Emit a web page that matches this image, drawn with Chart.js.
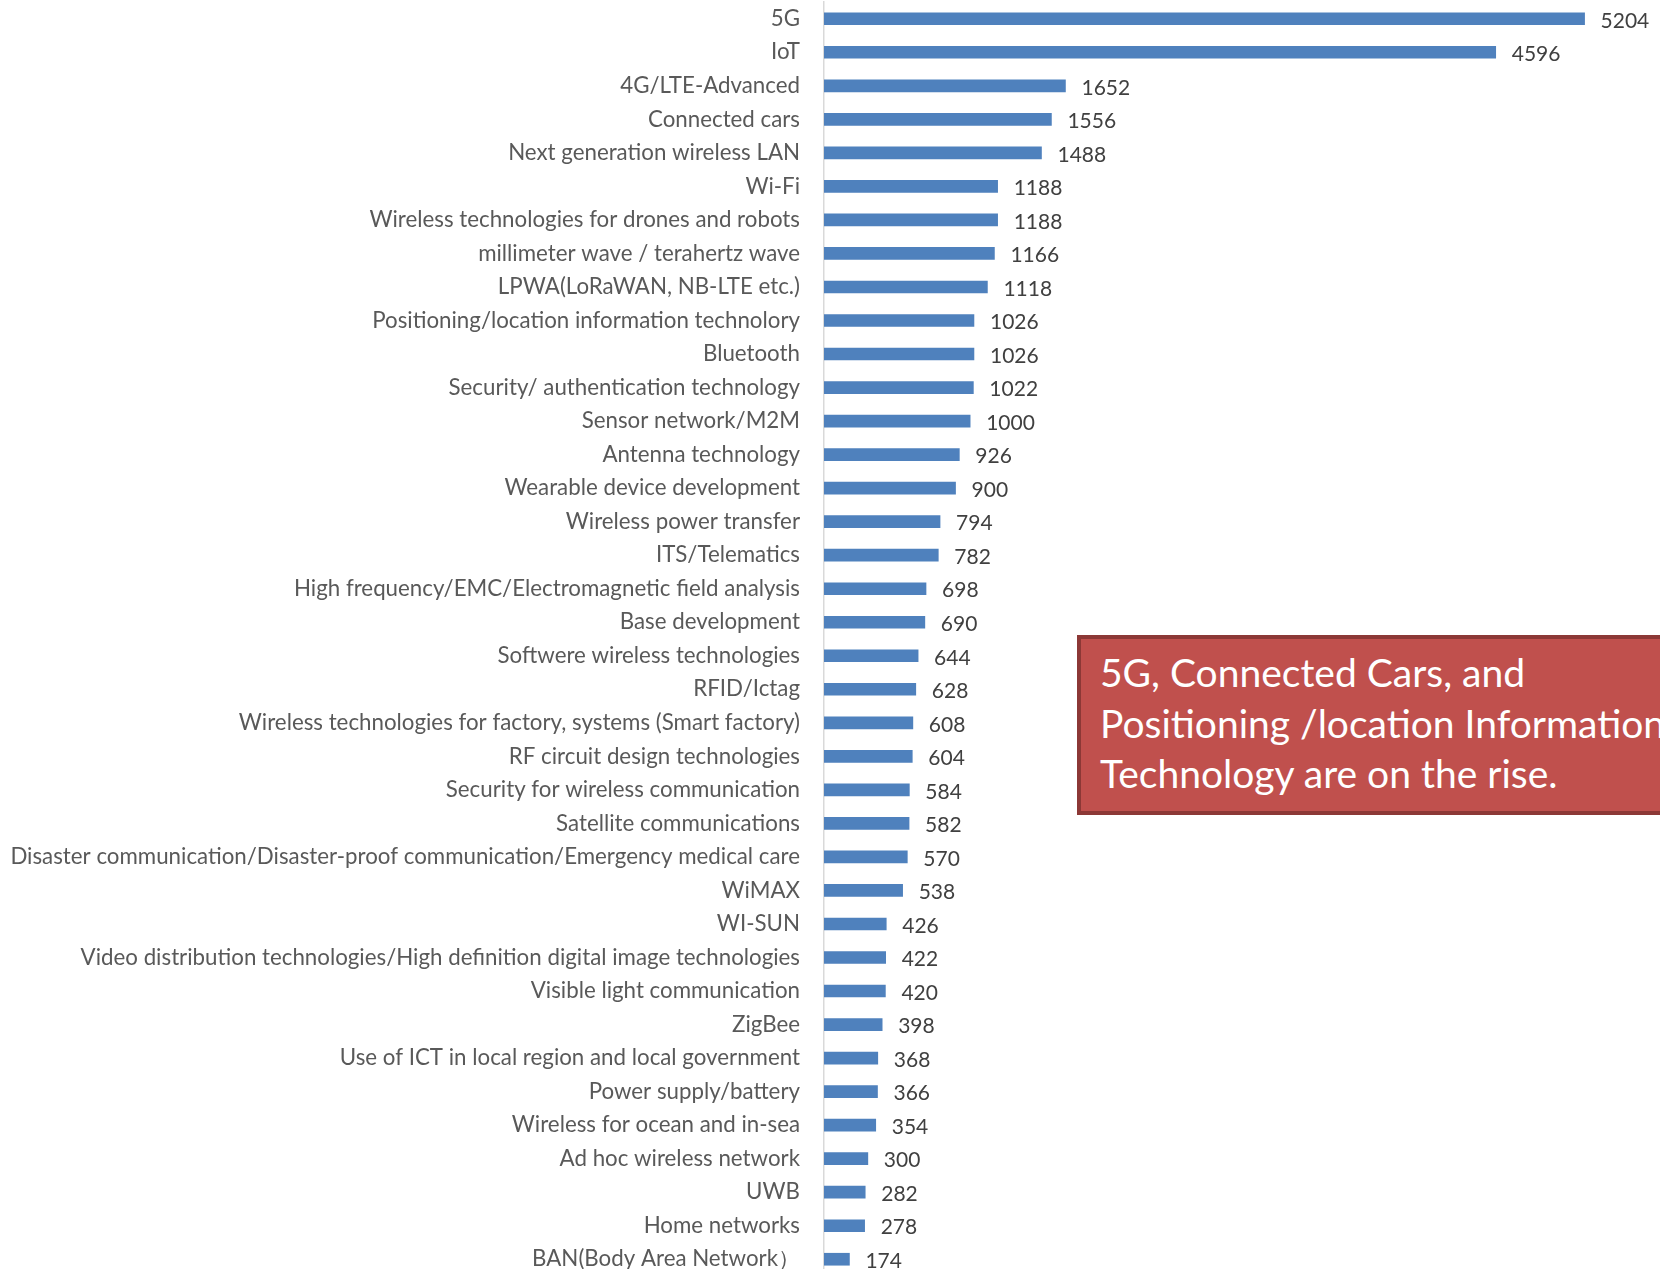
<!DOCTYPE html>
<html>
<head>
<meta charset="utf-8">
<title>Wireless technology fields</title>
<script src="https://cdn.jsdelivr.net/npm/chart.js@4.4.1/dist/chart.umd.min.js"></script>
<style>
    html, body {
        margin: 0;
        padding: 0;
        background: #fff;
        overflow: hidden;
    }
    .wrap {
        position: relative;
        width: 1660px;
        height: 1269px;
        overflow: hidden;
    }
    #chartBox {
        position: absolute;
        left: 0;
        top: 0;
        width: 1660px;
        height: 1276px;
    }
    .note {
        position: absolute;
        left: 1077px;
        top: 635px;
        width: 640px;
        height: 180px;
        background: #c0504d;
        border: 4px solid #8c3836;
        color: #fff;
        font-family: Lato, 'Open Sans', sans-serif;
        font-size: 39px;
        line-height: 50.5px;
        padding: 8px 0 0 19px;
        box-sizing: border-box;
        white-space: nowrap;
    }
</style>
</head>
<body>
<div class="wrap">
    <div id="chartBox"><canvas id="techChart"></canvas></div>
    <div class="note">5G, Connected Cars, and<br>Positioning /location Information<br>Technology are on the rise.</div>
</div>

<script>
        // Technology fields and their counts
        const categories = [
            '5G', 'IoT', '4G/LTE-Advanced', 'Connected cars', 'Next generation wireless LAN',
            'Wi-Fi', 'Wireless technologies for drones and robots', 'millimeter wave / terahertz wave',
            'LPWA(LoRaWAN, NB-LTE etc.)', 'Positioning/location information technolory', 'Bluetooth',
            'Security/ authentication technology', 'Sensor network/M2M', 'Antenna technology',
            'Wearable device development', 'Wireless power transfer', 'ITS/Telematics',
            'High frequency/EMC/Electromagnetic field analysis', 'Base development',
            'Softwere wireless technologies', 'RFID/Ictag',
            'Wireless technologies for factory, systems (Smart factory)', 'RF circuit design technologies',
            'Security for wireless communication', 'Satellite communications',
            'Disaster communication/Disaster-proof communication/Emergency medical care', 'WiMAX',
            'WI-SUN', 'Video distribution technologies/High definition digital image technologies',
            'Visible light communication', 'ZigBee', 'Use of ICT in local region and local government',
            'Power supply/battery', 'Wireless for ocean and in-sea', 'Ad hoc wireless network',
            'UWB', 'Home networks', 'BAN(Body Area Network\uFF09'
        ];

        const counts = [
            5204, 4596, 1652, 1556, 1488,
            1188, 1188, 1166,
            1118, 1026, 1026,
            1022, 1000, 926,
            900, 794, 782,
            698, 690,
            644, 628,
            608, 604,
            584, 582,
            570, 538,
            426, 422,
            420, 398, 368,
            366, 354, 300,
            282, 278, 174
        ];

        const xMin = 0;
        const xMax = 5720;

        const FONT = 'Lato';

        // Value labels to the right of each bar
        const valueLabels = {
            id: 'valueLabels',
            afterDatasetsDraw(chart) {
                const { ctx } = chart;
                const meta = chart.getDatasetMeta(0);
                ctx.save();
                ctx.font = '21px ' + FONT;
                ctx.fillStyle = '#404040';
                ctx.textAlign = 'left';
                ctx.textBaseline = 'middle';
                meta.data.forEach((bar, i) => {
                    ctx.fillText(String(counts[i]), bar.x + 16, bar.y + 2);
                });
                ctx.restore();
            }
        };

        const ctx = document.getElementById('techChart').getContext('2d');
        new Chart(ctx, {
            type: 'bar',
            data: {
                labels: categories,
                datasets: [{
                    data: counts,
                    backgroundColor: '#4f81bd',
                    borderWidth: 0,
                    barThickness: 12
                }]
            },
            options: {
                indexAxis: 'y',
                responsive: true,
                maintainAspectRatio: false,
                animation: false,
                layout: {
                    padding: { top: 2, right: 0, bottom: 0, left: 0 }
                },
                plugins: {
                    legend: { display: false },
                    tooltip: { enabled: false }
                },
                scales: {
                    x: {
                        display: false,
                        min: xMin,
                        max: xMax
                    },
                    y: {
                        afterFit(scale) {
                            // fixed label column; no extra room above/below the bars
                            scale.width = 824;
                            scale.paddingTop = 0;
                            scale.paddingBottom = 0;
                        },
                        grid: { display: false },
                        border: {
                            display: true,
                            color: '#d9d9d9',
                            width: 1.5
                        },
                        ticks: {
                            autoSkip: false,
                            padding: 16,
                            color: '#595959',
                            font: {
                                family: FONT,
                                size: 22.3
                            }
                        }
                    }
                }
            },
            plugins: [valueLabels]
        });
</script>
</body>
</html>
